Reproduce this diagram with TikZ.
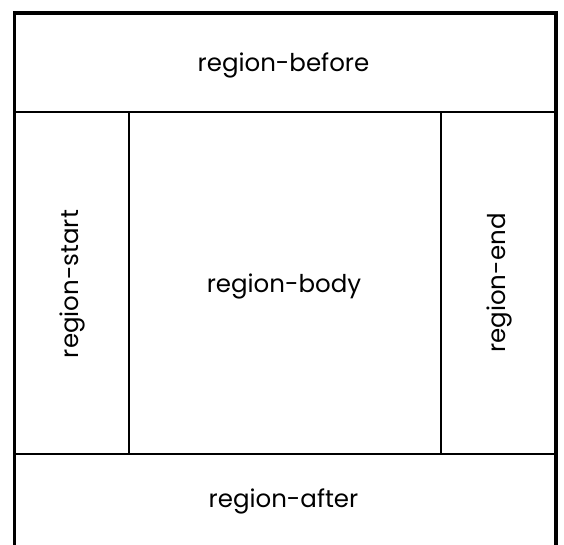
\documentclass[tikz,border=0pt]{standalone}
\usepackage{fontspec}
\setmainfont{Poppins}
\usepackage{tikz}
\usetikzlibrary{positioning}

\begin{document}
\begin{tikzpicture}[x=1pt, y=-1pt, every node/.style={font=\fontsize{24.5}{28}\selectfont, align=center},
    outer/.style={line width=3.2pt},
    inner/.style={line width=2pt}]

  \useasboundingbox (0,0) rectangle (564,545);
  \fill[white] (0,0) rectangle (564,545);

  %% ─── Frame (bottom edge lies below the picture) ─────────────────────────
  \coordinate (fr_bl) at (14.3,550);
  \coordinate (fr_br) at (556,550);
  \draw[outer] (fr_bl) |- (556,13) -- (fr_br);

  %% ─── Inner borders ──────────────────────────────────────────────────────
  \draw[inner] (14.3,112) -- (556,112);
  \draw[inner] (14.3,453.5) -- (556,453.5);
  \draw[inner] (128.8,112) -- (128.8,453.5);
  \draw[inner] (441.2,112) -- (441.2,453.5);

  %% ─── Region labels ──────────────────────────────────────────────────────
  \node (before) at (283.5,65) {region-before};
  \node (body)   at (284,286)  {region-body};
  \node (after)  at (283.5,501) {region-after};
  \node[rotate=90] (start) at (72,284) {region-start};
  \node[rotate=90] (end)   at (499,283) {region-end};

\end{tikzpicture}
\end{document}
